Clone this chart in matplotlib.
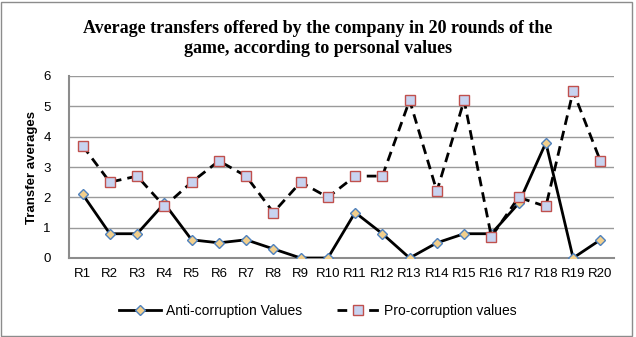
import matplotlib
matplotlib.use("Agg")
import matplotlib.pyplot as plt
from matplotlib.patches import Rectangle

# ── DATA ──────────────────────────────────────────────────────────────────────
rounds = [f"R{i}" for i in range(1, 21)]
anti_corruption = [2.1, 0.8, 0.8, 1.8, 0.6, 0.5, 0.6, 0.3, 0.0, 0.0,
                   1.5, 0.8, 0.0, 0.5, 0.8, 0.8, 1.8, 3.8, 0.0, 0.6]
pro_corruption = [3.7, 2.5, 2.7, 1.7, 2.5, 3.2, 2.7, 1.5, 2.5, 2.0,
                  2.7, 2.7, 5.2, 2.2, 5.2, 0.7, 2.0, 1.7, 5.5, 3.2]
y_ticks = [0, 1, 2, 3, 4, 5, 6]

plt.rcParams["font.family"] = ["Liberation Sans", "DejaVu Sans"]

fig = plt.figure(figsize=(6.36, 3.37), dpi=100)
ax = fig.add_axes([69 / 636, 79 / 337, 545 / 636, 182 / 337])

# outer chart border
fig.patches.append(Rectangle((0.002, 0.003), 0.991, 0.99, transform=fig.transFigure,
                             fill=False, edgecolor="#8c8c8c", lw=1.0))

x = list(range(len(rounds)))
ax.plot(x, anti_corruption, color="black", lw=2.0, marker="D", ms=5.5,
        mfc="#f2cf8c", mec="#4f81bd", mew=1.0, label="Anti-corruption Values", zorder=3)
ax.plot(x, pro_corruption, color="black", lw=2.0, ls=(0, (3.5, 2.2)), marker="s", ms=7.5,
        mfc="#c8d3f0", mec="#c0504d", mew=1.0, label="Pro-corruption values", zorder=4)

ax.set_xlim(-0.5, len(rounds) - 0.5)
ax.set_ylim(0, 6)
ax.set_yticks(y_ticks)
ax.set_xticks(x)
ax.set_xticklabels(rounds)
ax.tick_params(axis="both", length=0, labelsize=9.5, pad=7)
ax.tick_params(axis="y", pad=13)

ax.grid(axis="y", color="#9a9a9a", lw=1.0)
ax.set_axisbelow(True)
for side in ["top", "right"]:
    ax.spines[side].set_visible(False)
for side in ["left", "bottom"]:
    ax.spines[side].set_color("#8c8c8c")
    ax.spines[side].set_linewidth(1.5)

ax.set_ylabel("Transfer averages", fontsize=9.5, fontweight="bold", labelpad=4)

fig.text(0.5, 0.885, "Average transfers offered by the company in 20 rounds of the\n"
         "game, according to personal values",
         ha="center", va="center", fontsize=13, fontweight="bold",
         family=["Liberation Serif", "DejaVu Serif"], linespacing=1.2)

fig.legend(loc="center", bbox_to_anchor=(0.5, 0.077), ncol=2, frameon=False,
           fontsize=10, handlelength=3.0, columnspacing=2.5, handletextpad=0.4)

fig.savefig("out.png", dpi=100)
